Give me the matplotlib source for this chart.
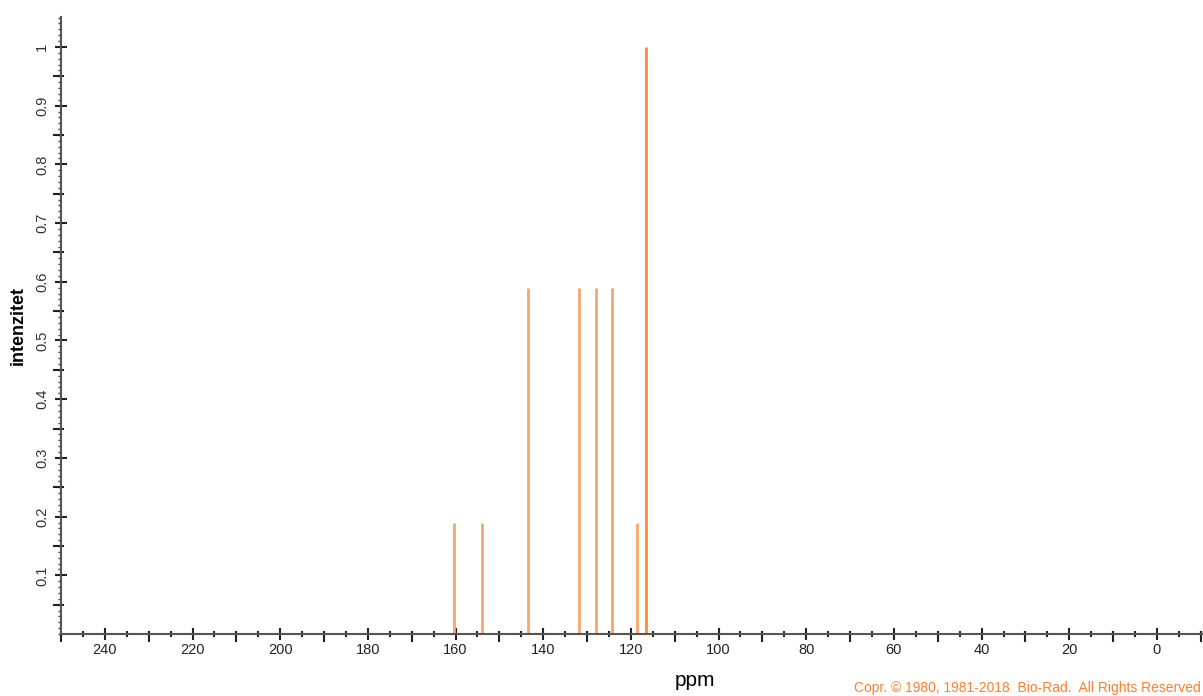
import matplotlib
matplotlib.use("Agg")
import matplotlib.pyplot as plt
from matplotlib.ticker import MultipleLocator

plt.rcParams['font.family'] = ['Liberation Sans', 'DejaVu Sans']

# 13C peak list
shifts = [160.4, 154.0, 143.5, 131.9, 128.0, 124.3, 118.6, 116.6]
intensities = [0.19, 0.19, 0.59, 0.59, 0.59, 0.59, 0.19, 1.0]
x_ticks = [240, 220, 200, 180, 160, 140, 120, 100, 80, 60, 40, 20, 0]
y_ticks = [0.1, 0.2, 0.3, 0.4, 0.5, 0.6, 0.7, 0.8, 0.9, 1]

fig = plt.figure(figsize=(12.03, 6.96), dpi=100)
ax = fig.add_axes([0.0507, 0.089, 0.9493, 0.8866])

for s, h in zip(shifts, intensities):
    col = '#ff8a3d' if h >= 1 else '#f8a66f'
    ax.vlines(s, 0, h, color=col, linewidth=2)

ax.set_xlim(250, -10.5)
ax.set_ylim(0, 1.051)

ax.spines['top'].set_visible(False)
ax.spines['right'].set_visible(False)
for sp in ('left', 'bottom'):
    ax.spines[sp].set_color('#555555')
    ax.spines[sp].set_linewidth(1.5)

ax.set_xticks(x_ticks)
ax.set_xticklabels([str(t) for t in x_ticks])
ax.xaxis.set_minor_locator(MultipleLocator(5))
ax.set_yticks(y_ticks)
ax.set_yticklabels([f"{t:g}" for t in y_ticks], rotation=90, va='center')
ax.yaxis.set_minor_locator(MultipleLocator(0.01))

ax.tick_params(axis='x', which='major', direction='inout', length=9, width=1.5,
               color='#222222', labelsize=10.5, labelcolor='#222222', pad=2)
ax.tick_params(axis='x', which='minor', direction='inout', length=5, width=1.5,
               color='#222222')
ax.tick_params(axis='y', which='major', direction='inout', length=9, width=1.5,
               color='#222222', labelsize=10.5, labelcolor='#333333', pad=4)
ax.tick_params(axis='y', which='minor', direction='out', length=2, width=1,
               color='#444444')

# medium ticks at the half-steps
for v in range(250, -11, -10):
    if v % 20 != 0:
        ax.plot([v, v], [-0.012, 0.004], color='#222222', lw=1.5, clip_on=False)
for k in range(1, 21, 2):
    v = k * 0.05
    ax.plot([250 + 1.6, 250 - 0.4], [v, v], color='#222222', lw=1.5, clip_on=False)

ax.set_xlabel('ppm', fontsize=15)
ax.xaxis.set_label_coords(0.5555, -0.06)
ax.set_ylabel('intenzitet', fontsize=13, fontweight='bold')
ax.yaxis.set_label_coords(-0.030, 0.5)

fig.text(0.998, 0.002, 'Copr. © 1980, 1981-2018  Bio-Rad.  All Rights Reserved',
         color='#ff7f2a', fontsize=10, ha='right', va='bottom')

fig.savefig('out.png', dpi=100)
